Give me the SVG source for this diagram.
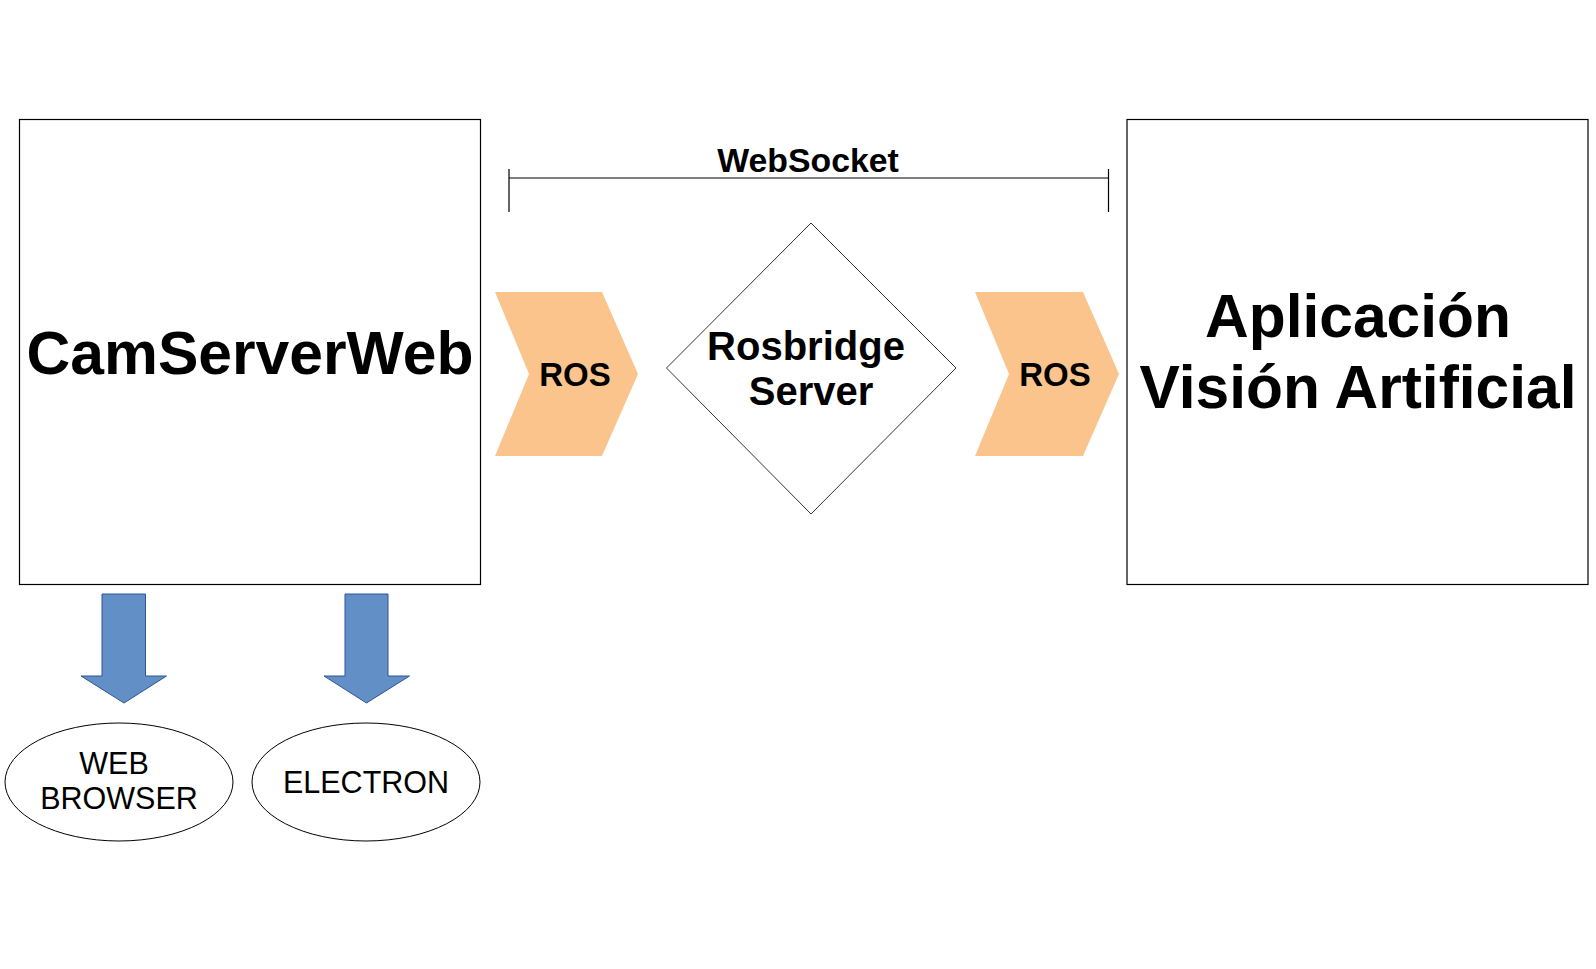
<svg xmlns="http://www.w3.org/2000/svg" width="1596" height="969" viewBox="0 0 1596 969">
<style>
.box{fill:#fff;stroke:#000;stroke-width:1.2}
.chev{fill:#fbc48c}
.dia{fill:#fff;stroke:#333;stroke-width:1}
.ell{fill:#fff;stroke:#000;stroke-width:1}
.arr{fill:#6290c6;stroke:#2f5597;stroke-width:1}
.b{font-family:"Liberation Sans",Arial,sans-serif;font-weight:bold;text-anchor:middle;fill:#000}
.r{font-family:"Liberation Sans",Arial,sans-serif;text-anchor:middle;fill:#000}
.ln{stroke:#000;stroke-width:1.2;fill:none}
</style>
<rect width="1596" height="969" fill="#fff"/>
<g id="camserverweb">
<rect class="box" x="19.5" y="119.5" width="461" height="465"/>
<text class="b" x="250" y="374" font-size="60.6">CamServerWeb</text>
</g>
<g id="vision">
<rect class="box" x="1127" y="119.5" width="461" height="465"/>
<text class="b" x="1358" y="337" font-size="60.5">Aplicación</text>
<text class="b" x="1358" y="408" font-size="60.5">Visión Artificial</text>
</g>
<g id="ros-left">
<polygon class="chev" points="495,292 602,292 638,374 602,456 495,456 529,374"/>
<text class="b" x="575" y="386" font-size="33">ROS</text>
</g>
<g id="rosbridge">
<polygon class="dia" points="811,223 956,368 811,514 666.5,368"/>
<text class="b" x="806" y="360" font-size="40">Rosbridge</text>
<text class="b" x="811" y="405" font-size="40">Server</text>
</g>
<g id="ros-right">
<polygon class="chev" points="975,292 1083,292 1119,374 1083,456 975,456 1009,374"/>
<text class="b" x="1055" y="386" font-size="33">ROS</text>
</g>
<g id="websocket">
<text class="b" x="808" y="172" font-size="33.8">WebSocket</text>
</g>
<g id="web-browser">
<ellipse class="ell" cx="119" cy="782" rx="114" ry="59"/>
<text class="r" x="114" y="774" font-size="30.5">WEB</text>
<text class="r" x="119" y="809" font-size="30.5">BROWSER</text>
</g>
<g id="electron">
<ellipse class="ell" cx="366" cy="782" rx="114" ry="59"/>
<text class="r" x="366" y="793" font-size="30.5">ELECTRON</text>
</g>
<g id="connectors">
<path class="ln" d="M509,178 H1108.5 M509,169 V212 M1108.5,169 V212"/>
<polygon class="arr" points="102,594 145.5,594 145.5,676 166.5,676 124,703 81,676 102,676"/>
<polygon class="arr" points="345,594 388,594 388,676 409.5,676 366.5,703 324,676 345,676"/>
</g>
</svg>
